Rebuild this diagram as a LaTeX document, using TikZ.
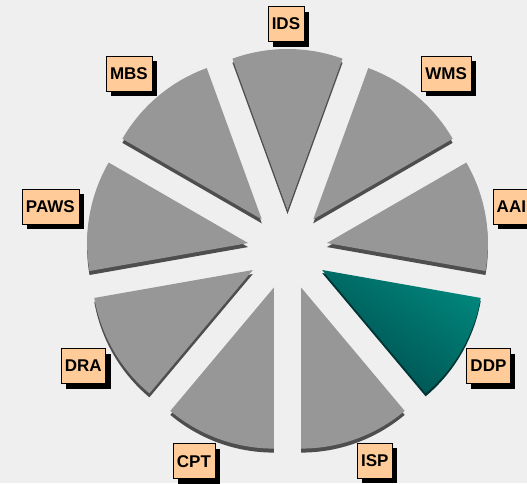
\documentclass[tikz,border=0pt]{standalone}
\usepackage{fontspec}
\setmainfont{Liberation Sans}
\usetikzlibrary{shadows}
\definecolor{bgcol}{HTML}{EFEFEF}
\definecolor{wedgecol}{HTML}{979797}
\definecolor{edgecol}{HTML}{4E4E4E}
\definecolor{boxcol}{HTML}{FFCC99}
\definecolor{ddplight}{HTML}{00857B}
\definecolor{ddpdark}{HTML}{004C4C}
\definecolor{ddpedge}{HTML}{003333}

\begin{document}
\begin{tikzpicture}[x=1pt,y=1pt]
        \tikzstyle{tag}=[draw=black,fill=boxcol,font=\fontsize{17}{17}\selectfont\bfseries,minimum height=35pt,inner xsep=4pt,inner ysep=0pt,drop shadow={shadow xshift=5pt,shadow yshift=-5pt,fill=black,opacity=1}]
        \tikzstyle{depth}=[fill=edgecol]
        \tikzstyle{wedge}=[fill=wedgecol]
            \useasboundingbox (0,0) rectangle (527,483);
            \fill[bgcol] (0,0) rectangle (527,483);
            \coordinate (C) at (287.5,233);

            % grey slices
            \foreach \a/\n in {90/IDS, 50/WMS, 10/AAI, -70/ISP, -110/CPT, -150/DRA, 170/PAWS, 130/MBS}{
                \fill[depth] ([shift={(\a:40pt)},yshift=-4pt]C) -- ++({\a-20}:161pt) arc[start angle=\a-20,end angle=\a+20,radius=161pt] -- cycle;
                \fill[wedge] ([shift={(\a:40pt)}]C) coordinate (V-\n) -- ++({\a-20}:161pt) arc[start angle=\a-20,end angle=\a+20,radius=161pt] -- cycle;
            }

            % highlighted slice
            \fill[ddpedge] ([shift={(-30:40pt)},yshift=-3pt]C) -- ++(-50:161pt) arc[start angle=-50,end angle=-10,radius=161pt] -- cycle;
            \shade[top color=ddplight,bottom color=ddpdark,shading angle=-35] ([shift={(-30:40pt)}]C) coordinate (V-DDP) -- ++(-50:161pt) arc[start angle=-50,end angle=-10,radius=161pt] -- cycle;

            % labels
            \foreach \n/\la/\lr in {IDS/90.4/226, WMS/48/237, AAI/10.9/228, DDP/-30/232, ISP/-67.5/228, CPT/-113.9/231, DRA/-150.4/235, PAWS/169.7/241, MBS/132/237}
                \node[tag] (L-\n) at ([shift={(\la:\lr pt)}]C) {\n};
        \end{tikzpicture}
\end{document}
